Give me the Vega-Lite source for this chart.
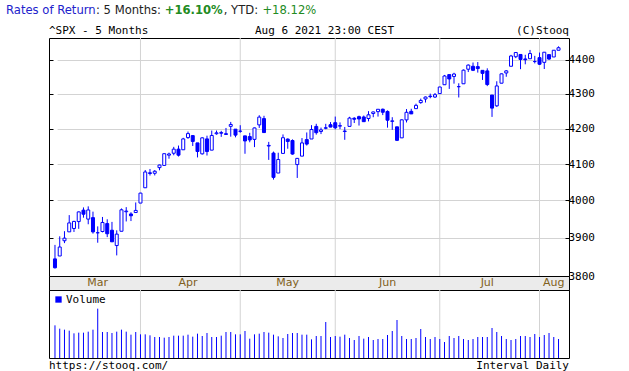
{
"$schema": "https://vega.github.io/schema/vega-lite/v6.json",
"background": "white",
"padding": {"left": 5, "top": 5, "right": 5, "bottom": 0},
"config": {"font": "DejaVu Sans Mono", "view": {"stroke": null}},
"datasets": {
"ohlc": [
{"d":"2021-03-08","o":3844.39,"h":3881.06,"l":3819.25,"c":3821.35,"v":6207},
{"d":"2021-03-09","o":3851.93,"h":3903.76,"l":3851.93,"c":3875.44,"v":5573},
{"d":"2021-03-10","o":3891.99,"h":3917.35,"l":3885.73,"c":3898.81,"v":5383},
{"d":"2021-03-11","o":3915.54,"h":3960.27,"l":3915.54,"c":3939.34,"v":5193},
{"d":"2021-03-12","o":3924.52,"h":3944.99,"l":3915.21,"c":3943.34,"v":4687},
{"d":"2021-03-15","o":3942.96,"h":3970.08,"l":3923.54,"c":3968.94,"v":4813},
{"d":"2021-03-16","o":3973.59,"h":3981.04,"l":3953.44,"c":3962.71,"v":4813},
{"d":"2021-03-17","o":3949.57,"h":3983.87,"l":3935.74,"c":3974.12,"v":5003},
{"d":"2021-03-18","o":3953.50,"h":3969.62,"l":3910.86,"c":3915.46,"v":5383},
{"d":"2021-03-19","o":3913.14,"h":3930.12,"l":3886.75,"c":3913.10,"v":9373},
{"d":"2021-03-22","o":3916.48,"h":3955.31,"l":3914.16,"c":3940.59,"v":4940},
{"d":"2021-03-23","o":3937.60,"h":3949.13,"l":3901.57,"c":3910.52,"v":4940},
{"d":"2021-03-24","o":3919.93,"h":3942.08,"l":3889.07,"c":3889.14,"v":4750},
{"d":"2021-03-25","o":3879.34,"h":3919.54,"l":3853.50,"c":3909.52,"v":5003},
{"d":"2021-03-26","o":3917.12,"h":3978.19,"l":3917.12,"c":3974.54,"v":5383},
{"d":"2021-03-29","o":3969.31,"h":3981.83,"l":3943.25,"c":3971.09,"v":5003},
{"d":"2021-03-30","o":3963.34,"h":3968.01,"l":3944.35,"c":3958.55,"v":4433},
{"d":"2021-03-31","o":3967.25,"h":3994.41,"l":3966.98,"c":3972.89,"v":4940},
{"d":"2021-04-01","o":3992.78,"h":4020.63,"l":3992.78,"c":4019.87,"v":4497},
{"d":"2021-04-05","o":4034.44,"h":4083.42,"l":4034.44,"c":4077.91,"v":4497},
{"d":"2021-04-06","o":4075.57,"h":4086.23,"l":4068.14,"c":4073.94,"v":4307},
{"d":"2021-04-07","o":4074.29,"h":4083.13,"l":4068.31,"c":4079.95,"v":3990},
{"d":"2021-04-08","o":4089.95,"h":4098.19,"l":4082.54,"c":4097.17,"v":3990},
{"d":"2021-04-09","o":4096.11,"h":4129.48,"l":4095.51,"c":4128.80,"v":3863},
{"d":"2021-04-12","o":4124.71,"h":4131.76,"l":4114.82,"c":4127.99,"v":3990},
{"d":"2021-04-13","o":4130.10,"h":4148.00,"l":4124.43,"c":4141.59,"v":4243},
{"d":"2021-04-14","o":4141.58,"h":4151.69,"l":4120.87,"c":4124.66,"v":4243},
{"d":"2021-04-15","o":4139.76,"h":4173.49,"l":4139.76,"c":4170.42,"v":4243},
{"d":"2021-04-16","o":4174.14,"h":4191.31,"l":4170.75,"c":4185.47,"v":4433},
{"d":"2021-04-19","o":4179.80,"h":4180.81,"l":4150.47,"c":4163.26,"v":4053},
{"d":"2021-04-20","o":4159.18,"h":4159.18,"l":4118.38,"c":4134.94,"v":4623},
{"d":"2021-04-21","o":4128.42,"h":4175.02,"l":4126.35,"c":4173.42,"v":4180},
{"d":"2021-04-22","o":4170.46,"h":4179.57,"l":4123.69,"c":4134.98,"v":4750},
{"d":"2021-04-23","o":4138.78,"h":4194.17,"l":4138.78,"c":4180.17,"v":3990},
{"d":"2021-04-26","o":4185.03,"h":4194.19,"l":4182.36,"c":4187.62,"v":3990},
{"d":"2021-04-27","o":4188.25,"h":4193.35,"l":4176.22,"c":4186.72,"v":4243},
{"d":"2021-04-28","o":4185.14,"h":4201.53,"l":4181.78,"c":4183.18,"v":4940},
{"d":"2021-04-29","o":4206.14,"h":4218.78,"l":4176.81,"c":4211.47,"v":4940},
{"d":"2021-04-30","o":4198.10,"h":4198.10,"l":4174.85,"c":4181.17,"v":4497},
{"d":"2021-05-03","o":4191.98,"h":4209.39,"l":4188.03,"c":4192.66,"v":4497},
{"d":"2021-05-04","o":4179.04,"h":4179.04,"l":4128.59,"c":4164.66,"v":5130},
{"d":"2021-05-05","o":4177.06,"h":4187.72,"l":4160.94,"c":4167.59,"v":3673},
{"d":"2021-05-06","o":4169.14,"h":4202.70,"l":4147.33,"c":4201.62,"v":4497},
{"d":"2021-05-07","o":4210.34,"h":4238.04,"l":4201.64,"c":4232.60,"v":4623},
{"d":"2021-05-10","o":4228.29,"h":4236.39,"l":4188.13,"c":4188.43,"v":4940},
{"d":"2021-05-11","o":4150.34,"h":4162.04,"l":4111.53,"c":4152.10,"v":4813},
{"d":"2021-05-12","o":4130.55,"h":4134.73,"l":4056.88,"c":4063.04,"v":4433},
{"d":"2021-05-13","o":4074.99,"h":4131.58,"l":4074.99,"c":4112.50,"v":4117},
{"d":"2021-05-14","o":4129.58,"h":4183.13,"l":4129.58,"c":4173.85,"v":3800},
{"d":"2021-05-17","o":4169.92,"h":4171.92,"l":4142.69,"c":4163.29,"v":4560},
{"d":"2021-05-18","o":4165.94,"h":4169.15,"l":4125.99,"c":4127.83,"v":4750},
{"d":"2021-05-19","o":4098.45,"h":4116.93,"l":4061.41,"c":4115.68,"v":4750},
{"d":"2021-05-20","o":4121.97,"h":4172.80,"l":4121.97,"c":4159.12,"v":4433},
{"d":"2021-05-21","o":4168.61,"h":4188.72,"l":4151.72,"c":4155.86,"v":4433},
{"d":"2021-05-24","o":4170.16,"h":4209.52,"l":4170.16,"c":4197.05,"v":3547},
{"d":"2021-05-25","o":4205.94,"h":4213.42,"l":4182.52,"c":4188.13,"v":4180},
{"d":"2021-05-26","o":4191.59,"h":4202.61,"l":4184.11,"c":4195.99,"v":4180},
{"d":"2021-05-27","o":4201.94,"h":4213.38,"l":4197.78,"c":4200.88,"v":6840},
{"d":"2021-05-28","o":4210.77,"h":4218.36,"l":4203.57,"c":4204.11,"v":3990},
{"d":"2021-06-01","o":4216.52,"h":4234.12,"l":4197.59,"c":4202.04,"v":4180},
{"d":"2021-06-02","o":4206.82,"h":4217.37,"l":4198.27,"c":4208.12,"v":4053},
{"d":"2021-06-03","o":4191.43,"h":4204.39,"l":4167.93,"c":4192.85,"v":4433},
{"d":"2021-06-04","o":4206.05,"h":4233.45,"l":4206.05,"c":4229.89,"v":3800},
{"d":"2021-06-07","o":4229.34,"h":4232.34,"l":4215.66,"c":4226.52,"v":3420},
{"d":"2021-06-08","o":4233.81,"h":4236.74,"l":4208.41,"c":4227.26,"v":4180},
{"d":"2021-06-09","o":4232.99,"h":4237.09,"l":4218.74,"c":4219.55,"v":3673},
{"d":"2021-06-10","o":4228.56,"h":4249.74,"l":4220.34,"c":4239.18,"v":3990},
{"d":"2021-06-11","o":4242.90,"h":4248.38,"l":4232.25,"c":4247.44,"v":3420},
{"d":"2021-06-14","o":4248.31,"h":4255.59,"l":4234.07,"c":4255.15,"v":3610},
{"d":"2021-06-15","o":4255.28,"h":4257.16,"l":4238.35,"c":4246.59,"v":3610},
{"d":"2021-06-16","o":4248.87,"h":4251.89,"l":4202.45,"c":4223.70,"v":4370},
{"d":"2021-06-17","o":4220.37,"h":4232.29,"l":4196.05,"c":4221.86,"v":5130},
{"d":"2021-06-18","o":4204.78,"h":4204.78,"l":4164.40,"c":4166.45,"v":7220},
{"d":"2021-06-21","o":4173.40,"h":4226.24,"l":4173.40,"c":4224.79,"v":4180},
{"d":"2021-06-22","o":4224.61,"h":4255.84,"l":4217.27,"c":4246.44,"v":3610},
{"d":"2021-06-23","o":4249.27,"h":4256.60,"l":4241.43,"c":4241.84,"v":3610},
{"d":"2021-06-24","o":4256.97,"h":4271.28,"l":4256.97,"c":4266.49,"v":3800},
{"d":"2021-06-25","o":4274.45,"h":4286.12,"l":4271.16,"c":4280.70,"v":5510},
{"d":"2021-06-28","o":4284.90,"h":4292.14,"l":4274.67,"c":4290.61,"v":3990},
{"d":"2021-06-29","o":4293.21,"h":4300.52,"l":4287.04,"c":4291.80,"v":3610},
{"d":"2021-06-30","o":4290.65,"h":4302.43,"l":4287.96,"c":4297.50,"v":3990},
{"d":"2021-07-01","o":4300.73,"h":4320.66,"l":4300.73,"c":4319.94,"v":3610},
{"d":"2021-07-02","o":4326.60,"h":4355.43,"l":4326.60,"c":4352.34,"v":3040},
{"d":"2021-07-06","o":4356.46,"h":4356.46,"l":4314.37,"c":4343.54,"v":4180},
{"d":"2021-07-07","o":4351.01,"h":4361.88,"l":4329.79,"c":4358.13,"v":3800},
{"d":"2021-07-08","o":4321.07,"h":4330.88,"l":4289.37,"c":4320.82,"v":4180},
{"d":"2021-07-09","o":4329.38,"h":4371.60,"l":4329.38,"c":4369.55,"v":3610},
{"d":"2021-07-12","o":4372.41,"h":4386.68,"l":4364.03,"c":4384.63,"v":3420},
{"d":"2021-07-13","o":4381.07,"h":4392.37,"l":4366.92,"c":4369.21,"v":3610},
{"d":"2021-07-14","o":4380.11,"h":4393.68,"l":4362.36,"c":4374.30,"v":3990},
{"d":"2021-07-15","o":4369.02,"h":4369.02,"l":4340.70,"c":4360.03,"v":3990},
{"d":"2021-07-16","o":4367.43,"h":4375.09,"l":4322.53,"c":4327.16,"v":3990},
{"d":"2021-07-19","o":4296.40,"h":4296.40,"l":4233.13,"c":4258.49,"v":5700},
{"d":"2021-07-20","o":4265.11,"h":4336.84,"l":4262.05,"c":4323.06,"v":4940},
{"d":"2021-07-21","o":4331.13,"h":4359.70,"l":4331.13,"c":4358.69,"v":4180},
{"d":"2021-07-22","o":4361.27,"h":4369.87,"l":4350.06,"c":4367.48,"v":3610},
{"d":"2021-07-23","o":4381.20,"h":4415.18,"l":4381.20,"c":4411.79,"v":3420},
{"d":"2021-07-26","o":4409.58,"h":4422.73,"l":4405.45,"c":4422.30,"v":3610},
{"d":"2021-07-27","o":4416.38,"h":4416.38,"l":4372.51,"c":4401.46,"v":4180},
{"d":"2021-07-28","o":4402.95,"h":4415.47,"l":4387.01,"c":4400.64,"v":4180},
{"d":"2021-07-29","o":4403.59,"h":4429.97,"l":4403.59,"c":4419.15,"v":3990},
{"d":"2021-07-30","o":4395.12,"h":4412.25,"l":4389.65,"c":4395.26,"v":4560},
{"d":"2021-08-02","o":4406.86,"h":4422.18,"l":4384.81,"c":4387.16,"v":3990},
{"d":"2021-08-03","o":4392.74,"h":4423.79,"l":4373.00,"c":4423.15,"v":4370},
{"d":"2021-08-04","o":4415.95,"h":4416.17,"l":4400.23,"c":4402.66,"v":4750},
{"d":"2021-08-05","o":4408.86,"h":4429.76,"l":4408.86,"c":4429.10,"v":3990},
{"d":"2021-08-06","o":4429.07,"h":4440.82,"l":4429.07,"c":4436.52,"v":3610}
],
"monthStarts": [{"first":"2021-04-01"},{"first":"2021-05-03"},{"first":"2021-06-01"},{"first":"2021-07-01"},{"first":"2021-08-02"}],
"monthLabels": [{"m":"Mar","mid":"2021-03-19"},{"m":"Apr","mid":"2021-04-16"},{"m":"May","mid":"2021-05-17"},{"m":"Jun","mid":"2021-06-16"},{"m":"Jul","mid":"2021-07-16"},{"m":"Aug","mid":"2021-08-05"}]
},
"spacing": 0,
"resolve": {"scale": {"color": "independent"}, "legend": {"color": "independent"}},
"vconcat": [
{
 "hconcat": [
  {"hconcat": [
    {"width": 1, "height": 6.5, "data": {"values": [{}]}, "mark": {"type": "point", "opacity": 0, "size": 0},
     "encoding": {"y": {"datum": 0, "type": "quantitative", "axis": {"title": null, "labels": false, "ticks": false, "domain": false, "grid": false, "minExtent": 43, "maxExtent": 43}}},
     "title": {"text": "Rates of Return", "anchor": "start", "frame": "bounds", "offset": 0, "font": "DejaVu Sans", "fontSize": 11.6, "fontWeight": "normal", "color": "#2222cc"}},
    {"width": 1, "height": 6.5, "data": {"values": []}, "mark": "text", "title": {"text": ": 5 Months:", "anchor": "start", "frame": "group", "offset": 0, "font": "DejaVu Sans", "fontSize": 11.6, "fontWeight": "normal", "color": "#222222"}}
   ], "spacing": 0},
  {"hconcat": [
    {"width": 1, "height": 6.5, "data": {"values": []}, "mark": "text", "title": {"text": "+16.10%", "anchor": "start", "frame": "group", "offset": 0, "font": "DejaVu Sans", "fontSize": 11.6, "fontWeight": "bold", "color": "#228b22"}},
    {"width": 1, "height": 6.5, "data": {"values": []}, "mark": "text", "title": {"text": ", YTD:", "anchor": "start", "frame": "group", "offset": 0, "font": "DejaVu Sans", "fontSize": 11.6, "fontWeight": "normal", "color": "#222222"}}
   ], "spacing": 0},
  {"width": 1, "height": 6.5, "data": {"values": []}, "mark": "text", "title": {"text": "+18.12%", "anchor": "start", "frame": "group", "offset": 0, "font": "DejaVu Sans", "fontSize": 11.6, "fontWeight": "normal", "color": "#228b22"}}
 ],
 "spacing": 3.7
},
{
 "hconcat": [
  {"width": 200, "height": 1, "data": {"values": [{}]}, "mark": {"type": "point", "opacity": 0, "size": 0},
   "encoding": {"y": {"datum": 0, "type": "quantitative", "axis": {"title": null, "labels": false, "ticks": false, "domain": false, "grid": false, "minExtent": 43, "maxExtent": 43}}},
   "title": {"text": "^SPX - 5 Months", "anchor": "start", "frame": "group", "offset": 0.2, "font": "DejaVu Sans Mono", "fontSize": 11, "fontWeight": "normal", "color": "#000"}},
  {"width": 151, "height": 1, "data": {"values": []}, "mark": "text",
   "title": {"text": "Aug 6 2021 23:00 CEST", "anchor": "middle", "frame": "group", "offset": 0.2, "font": "DejaVu Sans Mono", "fontSize": 11, "fontWeight": "normal", "color": "#000"}},
  {"width": 169, "height": 1, "data": {"values": []}, "mark": "text",
   "title": {"text": "(C)Stooq", "anchor": "end", "frame": "group", "offset": 0.2, "font": "DejaVu Sans Mono", "fontSize": 11, "fontWeight": "normal", "color": "#000"}}
 ],
 "spacing": 0
},
{
 "bounds": "flush",
 "spacing": 0,
 "resolve": {"scale": {"color": "independent"}, "legend": {"color": "independent"}},
 "vconcat": [
 {
  "width": 520, "height": 238,
  "view": {"stroke": "#000", "strokeWidth": 1},
  "resolve": {"axis": {"y": "independent"}},
  "layer": [
   {"data": {"name": "monthStarts"}, "mark": {"type": "rule", "color": "#d3d3d3", "strokeWidth": 1},
    "encoding": {"x": {"field": "first", "type": "ordinal", "scale": {"type": "band", "range": [3.6, 511.9], "paddingInner": 0, "paddingOuter": 0}, "axis": null}}},
   {"data": {"name": "ohlc"}, "mark": {"type": "rule", "color": "#0000ff", "strokeWidth": 1},
    "encoding": {
     "x": {"field": "d", "type": "ordinal", "scale": {"type": "band", "range": [3.6, 511.9], "paddingInner": 0, "paddingOuter": 0}, "axis": null},
     "y": {"field": "l", "type": "quantitative", "scale": {"type": "log", "domain": [3800, 4466], "nice": false, "zero": false},
           "axis": {"orient": "left", "title": null, "labels": false, "domain": false, "grid": false, "ticks": true, "tickSize": -4, "tickColor": "#000", "values": [3800, 3900, 4000, 4100, 4200, 4300, 4400], "minExtent": 43, "maxExtent": 43}},
     "y2": {"field": "h"}}},
   {"data": {"name": "ohlc"}, "mark": {"type": "bar", "size": 3, "stroke": "#0000ff", "strokeWidth": 1},
    "encoding": {
     "x": {"field": "d", "type": "ordinal", "scale": {"type": "band", "range": [3.6, 511.9], "paddingInner": 0, "paddingOuter": 0}, "axis": null},
     "y": {"field": "o", "type": "quantitative", "scale": {"type": "log", "domain": [3800, 4466], "nice": false, "zero": false},
           "axis": {"orient": "right", "title": null, "domain": false, "grid": true, "gridColor": "#d3d3d3", "ticks": true, "tickSize": -4, "tickColor": "#000", "labelPadding": 3, "format": "d", "labelFont": "DejaVu Sans Mono", "labelFontSize": 11, "labelColor": "#000", "values": [3800, 3900, 4000, 4100, 4200, 4300, 4400]}},
     "y2": {"field": "c"},
     "fill": {"condition": {"test": "datum.c >= datum.o", "value": "#ffffff"}, "value": "#0000ff"}}}
  ]
 },
 {
  "width": 520, "height": 14,
  "view": {"stroke": "#000", "strokeWidth": 1, "fill": "#ebebeb"},
  "data": {"name": "ohlc"},
  "transform": [{"lookup": "d", "from": {"data": {"name": "monthLabels"}, "key": "mid", "fields": ["m"]}}],
  "mark": {"type": "text", "font": "DejaVu Sans", "fontSize": 11, "color": "#806020", "baseline": "middle"},
  "encoding": {
   "x": {"field": "d", "type": "ordinal", "scale": {"type": "band", "range": [3.6, 511.9], "paddingInner": 0, "paddingOuter": 0}, "axis": null},
   "y": {"datum": 0, "type": "quantitative", "scale": {"domain": [-1, 1]}, "axis": {"title": null, "labels": false, "ticks": false, "domain": false, "grid": false, "minExtent": 43, "maxExtent": 43}},
   "text": {"condition": {"test": "datum.m != null", "field": "m"}, "value": ""}}
 },
 {
  "width": 520, "height": 68,
  "view": {"stroke": "#000", "strokeWidth": 1},
  "layer": [
   {"data": {"name": "monthStarts"}, "mark": {"type": "rule", "color": "#d3d3d3", "strokeWidth": 1},
    "encoding": {"x": {"field": "first", "type": "ordinal", "scale": {"type": "band", "range": [3.6, 511.9], "paddingInner": 0, "paddingOuter": 0}, "axis": null}}},
   {"data": {"name": "ohlc"}, "mark": {"type": "rule", "strokeWidth": 1},
    "encoding": {
     "x": {"field": "d", "type": "ordinal", "scale": {"type": "band", "range": [3.6, 511.9], "paddingInner": 0, "paddingOuter": 0}, "axis": null},
     "y": {"field": "v", "type": "quantitative", "scale": {"domain": [0, 12920], "nice": false}, "axis": {"title": null, "labels": false, "ticks": false, "domain": false, "grid": false, "minExtent": 43, "maxExtent": 43}},
     "y2": {"datum": 0},
     "color": {"datum": "Volume", "type": "nominal", "scale": {"range": ["#0000ff"]},
       "legend": {"orient": "top-left", "title": null, "offset": 3.5, "padding": 0, "symbolType": "square", "symbolSize": 40, "symbolFillColor": "#0000ff", "symbolStrokeWidth": 0, "labelFont": "DejaVu Sans Mono", "labelFontSize": 11, "labelColor": "#000", "labelOffset": 2}}}}
  ]
 }
 ]
},
{
 "hconcat": [
  {"width": 260, "height": 0.5, "data": {"values": [{}]}, "mark": {"type": "point", "opacity": 0, "size": 0},
   "encoding": {"y": {"datum": 0, "type": "quantitative", "axis": {"title": null, "labels": false, "ticks": false, "domain": false, "grid": false, "minExtent": 43, "maxExtent": 43}}},
   "title": {"text": "https://stooq.com/", "orient": "bottom", "anchor": "start", "frame": "group", "offset": 0, "font": "DejaVu Sans Mono", "fontSize": 11, "fontWeight": "normal", "color": "#000"}},
  {"width": 260, "height": 0.5, "data": {"values": []}, "mark": "text",
   "title": {"text": "Interval Daily", "orient": "bottom", "anchor": "end", "frame": "group", "offset": 0, "font": "DejaVu Sans Mono", "fontSize": 11, "fontWeight": "normal", "color": "#000"}}
 ],
 "spacing": 0
}
]
}
